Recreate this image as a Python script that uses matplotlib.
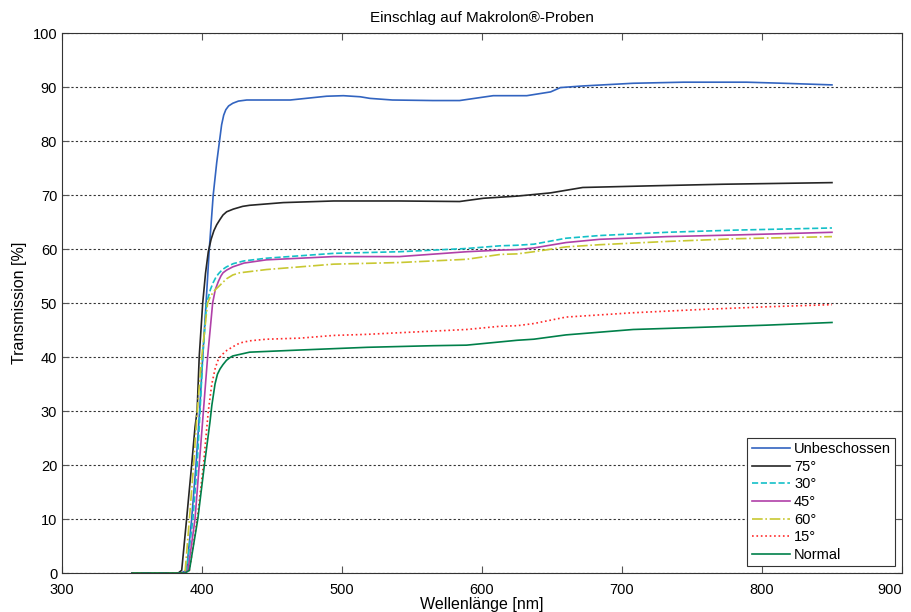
import matplotlib
matplotlib.use("Agg")
import matplotlib.pyplot as plt
import matplotlib.transforms as mtransforms

plt.rcParams['font.family'] = ['Liberation Sans', 'DejaVu Sans']

title = "Einschlag auf Makrolon®-Proben"
xlabel = "Wellenlänge [nm]"
ylabel = "Transmission [%]"
xticks = [300, 400, 500, 600, 700, 800, 900]
yticks = [0, 10, 20, 30, 40, 50, 60, 70, 80, 90, 100]

# Unbeschossen
wl_unb = [350, 385, 389, 392.6, 395.7, 398.3, 400.5, 402.9, 405.2, 408, 410.5, 412.5, 414, 415.5, 417, 419, 422, 426, 432, 463, 489, 501, 513, 520, 536, 565, 584, 608, 632, 649, 656, 672, 708, 744, 789, 815, 850]
t_unb = [0, 0, 0.5, 10, 20, 30, 40, 50, 60, 70, 76, 80, 83, 84.8, 85.8, 86.5, 87, 87.4, 87.6, 87.6, 88.3, 88.4, 88.2, 87.9, 87.6, 87.5, 87.5, 88.4, 88.4, 89.1, 89.9, 90.2, 90.7, 90.9, 90.9, 90.7, 90.4]

# 75°
wl_75 = [350, 383, 385.5, 389, 392.6, 395, 396.5, 398, 400.5, 402.5, 404.5, 406.5, 408.5, 410.5, 412.9, 415, 417.6, 422.4, 429, 434, 458, 494, 541, 584, 601, 625, 649, 672, 720, 772, 850]
t_75 = [0, 0, 0.5, 10, 20, 27, 30, 40, 50, 55.5, 59.5, 61.8, 63.4, 64.5, 65.5, 66.3, 66.9, 67.4, 67.9, 68.1, 68.6, 68.9, 68.9, 68.8, 69.4, 69.8, 70.4, 71.4, 71.7, 72.0, 72.3]

# 30°
wl_30 = [350, 386, 389, 393.5, 396.5, 398.6, 400.5, 403.3, 406, 408, 410, 411.7, 413.5, 415.2, 417.5, 420, 422.4, 430, 446, 494, 541, 589, 613, 625, 637, 660, 684, 732, 780, 850]
t_30 = [0, 0, 0.5, 10, 20, 30, 40, 50, 52.5, 53.8, 54.8, 55.4, 55.9, 56.3, 56.7, 57, 57.3, 57.8, 58.3, 59.2, 59.5, 60.1, 60.6, 60.7, 60.9, 62.0, 62.5, 63.1, 63.5, 63.9]

# 45°
wl_45 = [350, 387, 390, 395, 398, 401, 404, 407.6, 409.5, 411.7, 413.5, 415, 417.6, 422, 430, 446, 494, 541, 589, 613, 625, 637, 660, 684, 732, 780, 850]
t_45 = [0, 0, 0.5, 10, 20, 30, 40, 50, 52.5, 54, 55, 55.6, 56.1, 56.7, 57.4, 58.0, 58.6, 58.6, 59.5, 59.8, 59.9, 60.2, 61.2, 61.8, 62.3, 62.6, 63.1]

# 60°
wl_60 = [350, 385, 388, 391, 394, 396.6, 399.8, 404, 406, 408, 410, 411.7, 414, 417.6, 422, 427, 446, 494, 541, 589, 613, 625, 637, 660, 684, 732, 780, 850]
t_60 = [0, 0, 0.5, 10, 20, 30, 40, 50, 51.2, 52, 52.6, 53, 53.6, 54.5, 55.2, 55.6, 56.2, 57.2, 57.5, 58.1, 59.0, 59.1, 59.5, 60.4, 60.8, 61.4, 61.9, 62.3]

# 15°
wl_15 = [350, 388, 391, 396.6, 401, 404.5, 407, 409.5, 411.7, 413.5, 415, 417.6, 422, 427, 434, 446, 470, 494, 518, 541, 565, 589, 613, 625, 637, 660, 708, 756, 803, 850]
t_15 = [0, 0, 0.5, 10, 20, 30, 35, 38, 39.6, 40.2, 40.6, 41.2, 41.9, 42.6, 43.0, 43.3, 43.5, 44.0, 44.2, 44.5, 44.8, 45.1, 45.7, 45.8, 46.2, 47.4, 48.2, 48.8, 49.3, 49.7]

# Normal
wl_n = [350, 388, 391, 397, 401.7, 405.7, 407, 409.3, 411, 412.9, 415, 417.5, 420, 422, 434, 470, 518, 565, 589, 625, 637, 660, 708, 756, 803, 850]
t_n = [0, 0, 0.5, 10, 20, 28, 31, 35, 36.8, 37.8, 38.6, 39.4, 39.9, 40.2, 40.9, 41.3, 41.8, 42.1, 42.2, 43.1, 43.3, 44.1, 45.1, 45.5, 45.9, 46.4]

labels = ["Unbeschossen", "75°", "30°", "45°", "60°", "15°", "Normal"]

fig = plt.figure(figsize=(9.12, 6.12), dpi=100)
ax = fig.add_axes([0.068, 0.0637, 0.921, 0.8823])

series = [
    (wl_unb, t_unb, '#3264c0', '-'),
    (wl_75, t_75, '#262626', '-'),
    (wl_30, t_30, '#14c0c8', '--'),
    (wl_45, t_45, '#b040a8', '-'),
    (wl_60, t_60, '#c8c832', '-.'),
    (wl_15, t_15, '#ff2a2a', ':'),
    (wl_n, t_n, '#00804a', '-'),
]
for (x, y, c, ls), lab in zip(series, labels):
    ax.plot(x, y, color=c, linestyle=ls, linewidth=1.2, label=lab)

ax.set_xlim(300, 900)
ax.set_ylim(0, 100)
ax.set_xticks(xticks)
ax.set_yticks(yticks)
ax.yaxis.grid(True, linestyle=(0, (2, 2)), color='#333333', linewidth=0.8)
ax.xaxis.grid(False)
ax.tick_params(direction='in', top=True, right=True, labelsize=10.5, length=5, color='#555555')
ax.tick_params(axis='x', pad=7)
for s in ax.spines.values():
    s.set_color('#333333')
    s.set_linewidth(0.8)

# MATLAB keeps the last x tick label inside the figure
last = ax.get_xticklabels()[-1]
last.set_transform(last.get_transform() + mtransforms.ScaledTranslation(-12 / 100, 0, fig.dpi_scale_trans))

ax.set_title(title, fontsize=11, pad=8)
ax.set_xlabel(xlabel, fontsize=11.5, labelpad=0)
ax.set_ylabel(ylabel, fontsize=11.5, labelpad=4)

leg = ax.legend(loc='lower right', fontsize=10.5, frameon=True, fancybox=False,
                edgecolor='#333333', framealpha=1, handlelength=2.6,
                handletextpad=0.3, labelspacing=0.25, borderpad=0.3,
                borderaxespad=0.45)
leg.get_frame().set_linewidth(0.8)

fig.savefig("out.png", dpi=100)
